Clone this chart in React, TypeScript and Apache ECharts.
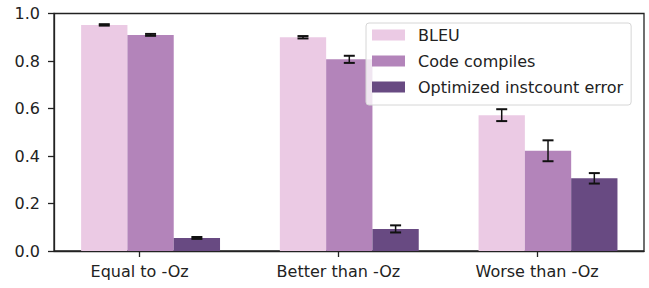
import React, { useEffect, useRef } from "react";
import * as echarts from "echarts";

const categories = ["Equal to -Oz", "Better than -Oz", "Worse than -Oz"];
const seriesNames = ["BLEU", "Code compiles", "Optimized instcount error"];
const bleuValues = [0.952, 0.900, 0.572];
const bleuErrors = [0.003, 0.005, 0.025];
const compilesValues = [0.910, 0.807, 0.422];
const compilesErrors = [0.004, 0.015, 0.044];
const instcountValues = [0.055, 0.093, 0.306];
const instcountErrors = [0.004, 0.015, 0.022];
const yTicks = [0, 0.2, 0.4, 0.6, 0.8, 1.0];

const colors = ["#ebcae4", "#b384ba", "#684a82"];
const offsets = [-0.178, 0.055, 0.288];
const BAR_W = 0.233;
const FONT = "DejaVu Sans";

export default function App() {
  const ref = useRef<HTMLDivElement>(null);
  useEffect(() => {
    if (!ref.current) return;
    const chart = echarts.init(ref.current, undefined, { renderer: "svg" });
    const values = [bleuValues, compilesValues, instcountValues];
    const errors = [bleuErrors, compilesErrors, instcountErrors];

    const barSeries = values.map((vals, s) => ({
      type: "custom",
      name: seriesNames[s],
      itemStyle: { color: colors[s] },
      encode: { x: 0, y: 1 },
      z: 2,
      data: vals.map((v, i) => [i + offsets[s], v]),
      renderItem: (params: any, api: any) => {
        const x = api.value(0);
        const y = api.value(1);
        const p0 = api.coord([x - BAR_W / 2, y]);
        const p1 = api.coord([x + BAR_W / 2, 0]);
        return {
          type: "rect",
          shape: { x: p0[0], y: p0[1], width: p1[0] - p0[0], height: p1[1] - p0[1] },
          style: { fill: colors[s] },
        };
      },
    }));

    const errData: number[][] = [];
    values.forEach((vals, s) => {
      vals.forEach((v, i) => {
        errData.push([i + offsets[s], v - errors[s][i], v + errors[s][i]]);
      });
    });

    const errSeries = {
      type: "custom",
      name: "err",
      z: 5,
      encode: { x: 0, y: [1, 2] },
      data: errData,
      renderItem: (params: any, api: any) => {
        const x = api.value(0);
        const lo = api.coord([x, api.value(1)]);
        const hi = api.coord([x, api.value(2)]);
        const cw = 5.5;
        const st = { stroke: "#111", lineWidth: 1.5 };
        const cap = { stroke: "#111", lineWidth: 2 };
        return {
          type: "group",
          children: [
            { type: "line", shape: { x1: lo[0], y1: lo[1], x2: hi[0], y2: hi[1] }, style: st },
            { type: "line", shape: { x1: lo[0] - cw, y1: lo[1], x2: lo[0] + cw, y2: lo[1] }, style: cap },
            { type: "line", shape: { x1: hi[0] - cw, y1: hi[1], x2: hi[0] + cw, y2: hi[1] }, style: cap },
          ],
        };
      },
    };

    chart.setOption({
      animation: false,
      color: colors,
      textStyle: { fontFamily: FONT },
      grid: {
        left: 54,
        right: 5,
        top: 13.5,
        bottom: 37,
        show: true,
        borderColor: "#222",
        borderWidth: 1.3,
        backgroundColor: "transparent",
      },
      legend: {
        data: seriesNames.map((n) => ({ name: n, icon: "rect" })),
        orient: "vertical",
        left: 366,
        top: 23,
        itemWidth: 33,
        itemHeight: 11,
        itemGap: 10,
        padding: [4, 8, 10, 6],
        backgroundColor: "rgba(255,255,255,0.8)",
        borderColor: "#d6d6d6",
        borderWidth: 1,
        borderRadius: 3,
        textStyle: {
          fontFamily: FONT,
          fontSize: 16,
          lineHeight: 16,
          color: "#222",
          padding: [0, 0, 0, 8],
        },
      },
      xAxis: {
        type: "value",
        min: -0.431,
        max: 2.538,
        splitLine: { show: false },
        axisLine: { show: true, onZero: false, lineStyle: { color: "#222", width: 1.3 } },
        axisTick: {
          show: true,
          length: 6,
          customValues: [0, 1, 2],
          lineStyle: { color: "#222", width: 1.3 },
        },
        axisLabel: {
          customValues: [0, 1, 2],
          margin: 12,
          fontFamily: FONT,
          fontSize: 16,
          color: "#222",
          formatter: (v: number) => categories[Math.round(v)] ?? "",
        },
      },
      yAxis: {
        type: "value",
        min: 0,
        max: 1,
        interval: 0.2,
        splitLine: { show: false },
        axisLine: { show: true, onZero: false, lineStyle: { color: "#222", width: 1.3 } },
        axisTick: { show: true, length: 6, lineStyle: { color: "#222", width: 1.3 } },
        axisLabel: {
          margin: 14,
          fontFamily: FONT,
          fontSize: 16,
          color: "#222",
          customValues: yTicks,
          formatter: (v: number) => v.toFixed(1),
        },
      },
      series: [...barSeries, errSeries],
    });
    return () => chart.dispose();
  }, []);

  return (
    <div
      ref={ref}
      style={{ position: "fixed", left: 0, top: 0, width: 649, height: 288, background: "#fff" }}
    />
  );
}
